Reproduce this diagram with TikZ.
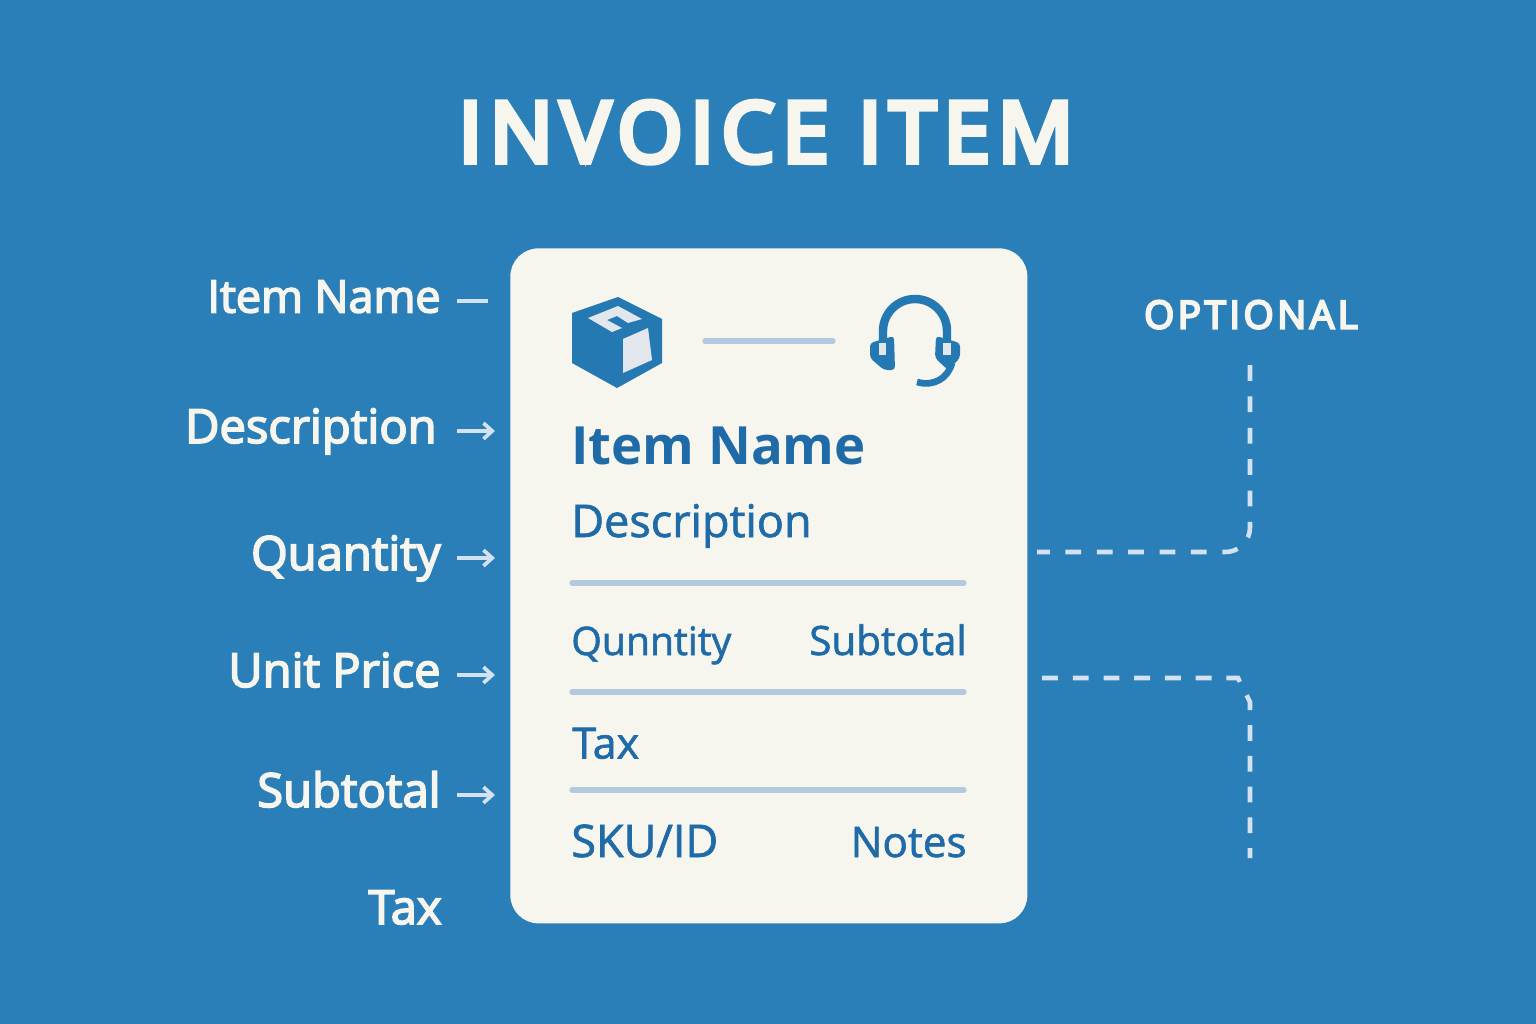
\documentclass[tikz,border=0pt]{standalone}
\usepackage{fontspec}
\setmainfont{Open Sans}
\newfontfamily\titlefont[LetterSpace=9.5,FakeBold=7]{Open Sans}
\newfontfamily\sidefont[FakeBold=3.5]{Open Sans}
\newfontfamily\cardfont[FakeBold=1.5]{Open Sans}
\newfontfamily\optionalfont[LetterSpace=9,FakeBold=5.5]{Open Sans}
\definecolor{bgblue}{HTML}{2A7FB8}
\definecolor{cardwhite}{HTML}{F6F5EE}
\definecolor{inkblue}{HTML}{1F6BA8}
\definecolor{iconblue}{HTML}{2579B3}
\definecolor{rulegray}{HTML}{B2C9E0}
\definecolor{facegray}{HTML}{E1E7EC}
\definecolor{dashgray}{HTML}{D3E2EE}
\usetikzlibrary{arrows.meta}
\begin{document}
\begin{tikzpicture}[x=0.02cm,y=-0.02cm,
every node/.style={inner sep=0pt},
sidelabel/.style={anchor=base east,text=cardwhite,font=\sidefont\fontsize{26.8}{27}\selectfont},
cardtext/.style={anchor=base west,text=inkblue,font=\cardfont\fontsize{25.6}{26}\selectfont},
cardright/.style={cardtext,anchor=base east},
sidearrow/.style={draw=dashgray,line width=2.1pt,-{Straight Barb[length=5pt,width=9pt]}},
sidetick/.style={draw=dashgray,line width=2.1pt},
cardrule/.style={draw=rulegray,line width=3pt,line cap=round},
optline/.style={draw=dashgray,line width=2.6pt,dash pattern=on 9pt off 8.5pt}]

\useasboundingbox (0,0) rectangle (1536,1024);
\fill[bgblue] (0,0) rectangle (1536,1024);

\node[text=cardwhite,font=\titlefont\fontsize{47.5}{48}\selectfont,anchor=base] (title) at (766,162) {INVOICE ITEM};

\node[fill=cardwhite,rounded corners=16pt,minimum width=517*0.02cm,minimum height=675*0.02cm,anchor=north west] (card) at (510,248) {};

\node[sidelabel,font=\sidefont\fontsize{25.6}{26}\selectfont] (itemname) at (441,312.5) {Item Name};
\node[sidelabel] (description) at (437,443) {Description};
\node[sidelabel] (quantity) at (441,570) {Quantity};
\node[sidelabel] (unitprice) at (441,687) {Unit Price};
\node[sidelabel] (subtotal) at (441,807) {Subtotal};
\node[sidelabel] (tax) at (442,924) {Tax};

\coordinate (itemnameend) at (488,301);
\coordinate (descriptionend) at (495,431);
\coordinate (quantityend) at (495,558);
\coordinate (unitpriceend) at (495,675);
\coordinate (subtotalend) at (495,795);

\draw[sidetick] (itemnameend-|457,0) -- (itemnameend);
\draw[sidearrow] (descriptionend-|457,0) -- (descriptionend);
\draw[sidearrow] (quantityend-|457,0) -- (quantityend);
\draw[sidearrow] (unitpriceend-|457,0) -- (unitpriceend);
\draw[sidearrow] (subtotalend-|457,0) -- (subtotalend);

% box icon
\fill[iconblue] (618,297) -- (662,319) -- (662,363) -- (617,388) -- (572,363) -- (572,313) -- cycle;
\fill[facegray] (623,339) -- (648,328) -- (652,360) -- (623,373) -- cycle;
\fill[facegray] (588,318) -- (618,306) -- (642,319) -- (628,323) -- (617,316) -- (607,320) -- (622,328) -- (612,332) -- cycle;

\draw[cardrule] (705,341) -- (833,341);

% headset icon
\draw[iconblue,line width=4.8pt] (883,345) -- (883,331) arc[start angle=180,end angle=360,radius=32] -- (947,345);
\fill[iconblue,rounded corners=2pt] (870,343) -- (894,336) -- (895,370) -- (884,370) -- (870,358) -- cycle;
\fill[iconblue,rounded corners=2pt] (960,343) -- (936,336) -- (935,358) -- (948,370) -- (960,358) -- cycle;
\fill[facegray] (879,343) rectangle (886,355);
\fill[facegray] (943,343) rectangle (951,355);
\draw[iconblue,line width=3.8pt] (952,363) .. controls (948,378) and (934,387) .. (917,382);

\node[cardtext,font=\bfseries\fontsize{30}{30}\selectfont] (cardname) at (571,464.5) {Item Name};
\node[cardtext] (carddesc) at (571,537) {Description};
\node[cardtext,font=\cardfont\fontsize{22.3}{23}\selectfont] (cardqty) at (571,655) {Qunntity};
\node[cardright,font=\cardfont\fontsize{23}{23}\selectfont] (cardsub) at (967,655) {Subtotal};
\node[cardtext,font=\cardfont\fontsize{24.5}{25}\selectfont] (cardtax) at (572,758.5) {Tax};
\node[cardtext] (cardsku) at (571,857) {SKU/ID};
\node[cardright,font=\cardfont\fontsize{24}{25}\selectfont] (cardnotes) at (967,857) {Notes};

\draw[cardrule] (572,583) -- (964,583);
\draw[cardrule] (572,692) -- (964,692);
\draw[cardrule] (572,790) -- (964,790);

\node[text=cardwhite,font=\optionalfont\fontsize{22}{22}\selectfont,anchor=base] (optional) at (1251,328.5) {OPTIONAL};

\coordinate (optstart) at (1037,552);
\coordinate (optcorner) at (1250,552);
\coordinate (opttop) at (1250,365);
\coordinate (lowstart) at (1042,678);
\coordinate (lowbottom) at (1250,858);

\draw[optline,dash pattern=on 9pt off 8.86pt,rounded corners=14pt] (opttop) -- (optcorner) -- (optstart);
\draw[optline] (lowstart) -- (1238,678) -- (1250,702) -- (lowbottom);

\end{tikzpicture}
\end{document}
